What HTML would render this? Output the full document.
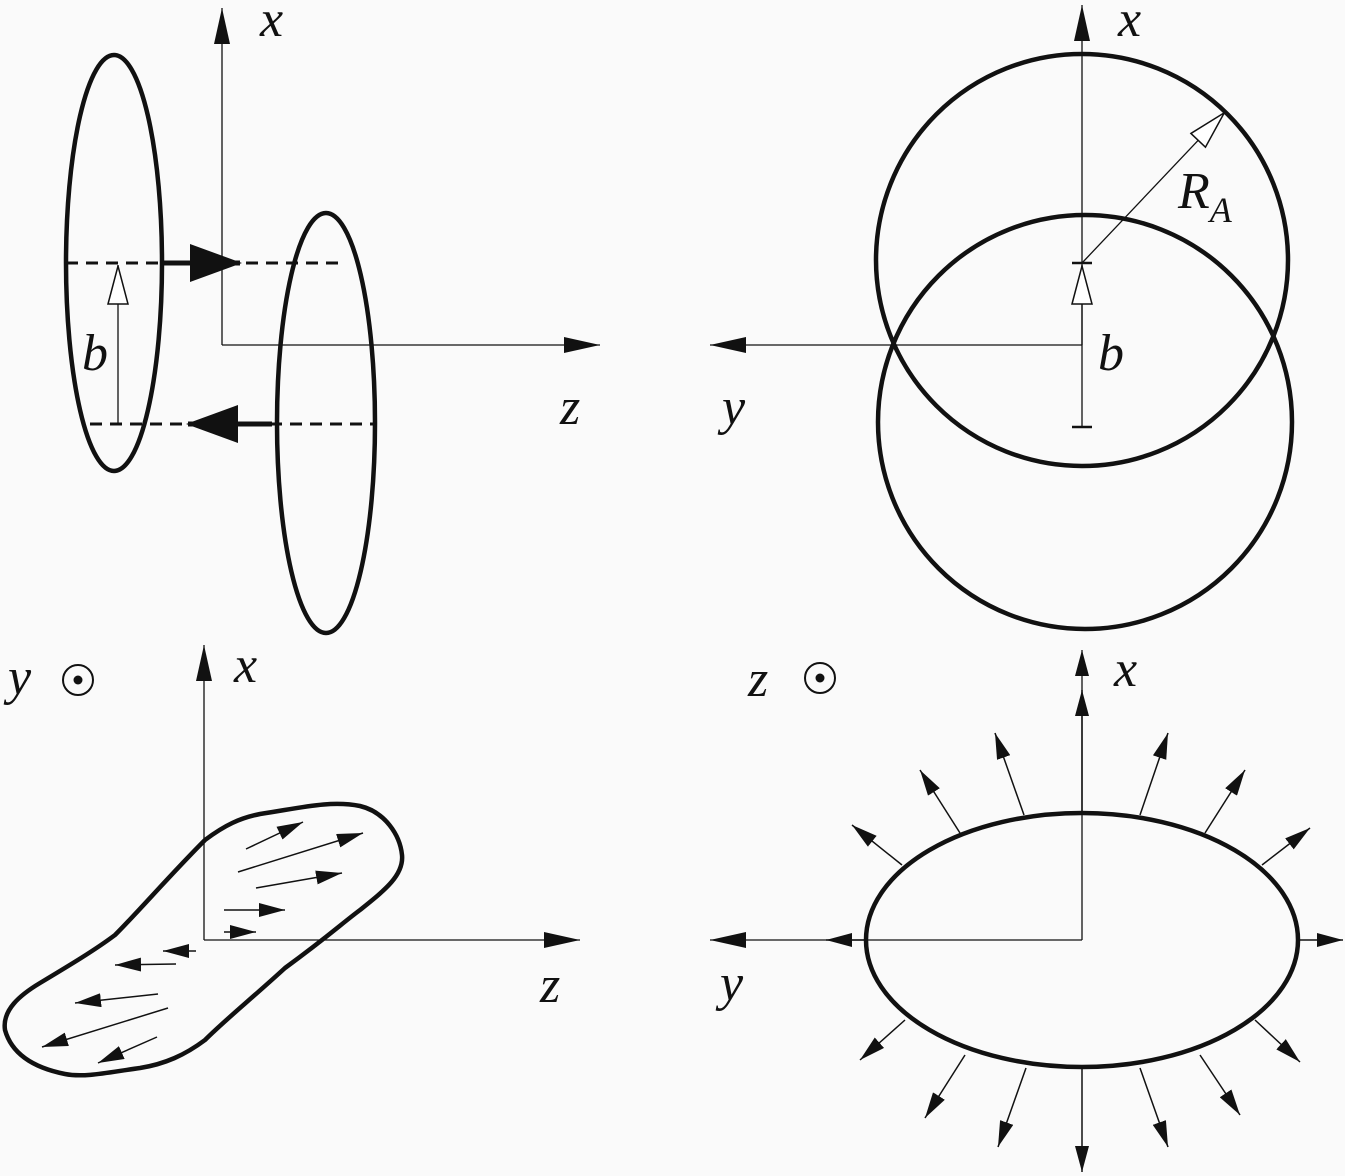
<!DOCTYPE html>
<html><head><style>html,body{margin:0;padding:0;background:#fafafa}
text{font-family:"Liberation Serif","DejaVu Serif",serif;font-style:italic}</style></head>
<body>
<svg width="1345" height="1176" viewBox="0 0 1345 1176" xmlns="http://www.w3.org/2000/svg" style="display:block">
<defs>
<marker id="b" viewBox="0 0 36 16" refX="36" refY="8" markerWidth="36" markerHeight="16" markerUnits="userSpaceOnUse" orient="auto"><path d="M0,0L36,8L0,16z" fill="#111"/></marker>
<marker id="s" viewBox="0 0 26 14" refX="26" refY="7" markerWidth="26" markerHeight="14" markerUnits="userSpaceOnUse" orient="auto"><path d="M0,0L26,7L0,14z" fill="#111"/></marker>
<marker id="o" viewBox="0 0 40 22" refX="40" refY="11" markerWidth="40" markerHeight="22" markerUnits="userSpaceOnUse" orient="auto"><path d="M1,1L39,11L1,21z" fill="#fff" stroke="#111" stroke-width="1.5"/></marker>
<marker id="bb" viewBox="0 0 52 38" refX="50" refY="19" markerWidth="52" markerHeight="38" markerUnits="userSpaceOnUse" orient="auto"><path d="M0,0L52,19L0,38z" fill="#111"/></marker>
</defs>
<g fill="none" stroke="#111">
<!-- top-left -->
<line x1="222" y1="345" x2="222" y2="8" stroke-width="1.3" marker-end="url(#b)"/>
<line x1="222" y1="345" x2="600" y2="345" stroke-width="1.3" marker-end="url(#b)"/>
<ellipse cx="114" cy="263" rx="48" ry="208" stroke-width="4.5"/>
<ellipse cx="326" cy="423" rx="49" ry="210" stroke-width="4.5"/>
<line x1="66" y1="263" x2="345" y2="263" stroke-width="3" stroke-dasharray="12,8"/>
<line x1="90" y1="424" x2="375" y2="424" stroke-width="3" stroke-dasharray="12,8"/>
<line x1="162" y1="263" x2="240" y2="263" stroke-width="5" marker-end="url(#bb)"/>
<line x1="272" y1="424" x2="188" y2="424" stroke-width="5" marker-end="url(#bb)"/>
<line x1="118" y1="424" x2="118" y2="265" stroke-width="1.3" marker-end="url(#o)"/>
<!-- top-right -->
<circle cx="1082" cy="260" r="206" stroke-width="4.5"/>
<circle cx="1085" cy="422" r="207" stroke-width="4.5"/>
<line x1="1082" y1="428" x2="1082" y2="5" stroke-width="1.3" marker-end="url(#b)"/>
<line x1="1082" y1="345" x2="710" y2="345" stroke-width="1.3" marker-end="url(#b)"/>
<line x1="1082" y1="263" x2="1225" y2="112" stroke-width="1.3" marker-end="url(#o)"/>
<line x1="1082" y1="345" x2="1082" y2="265" stroke-width="1.3" marker-end="url(#o)"/>
<line x1="1072" y1="263" x2="1092" y2="263" stroke-width="2.5"/>
<line x1="1072" y1="427" x2="1092" y2="427" stroke-width="2.5"/>
<!-- bottom-left -->
<line x1="204" y1="940" x2="204" y2="645" stroke-width="1.3" marker-end="url(#b)"/>
<line x1="204" y1="940" x2="580" y2="940" stroke-width="1.3" marker-end="url(#b)"/>
<path d="M205,840 C225,825 240,818 260,814 C300,808 330,800 360,806 C385,812 400,835 402,855 C404,875 385,890 360,910 C340,925 330,935 285,968 C250,1000 225,1020 205,1040 C185,1055 165,1064 140,1068 C110,1072 85,1078 65,1074 C35,1068 12,1055 5,1030 C2,1010 20,995 40,983 C70,965 95,950 115,935 C140,910 170,875 205,840 Z" stroke-width="4.5"/>
<g stroke-width="1.5">
<line x1="246" y1="849" x2="303" y2="822" marker-end="url(#s)"/>
<line x1="238" y1="872" x2="363" y2="833" marker-end="url(#s)"/>
<line x1="256" y1="888" x2="342" y2="873" marker-end="url(#s)"/>
<line x1="224" y1="910" x2="285" y2="910" marker-end="url(#s)"/>
<line x1="224" y1="932" x2="256" y2="932" marker-end="url(#s)"/>
<line x1="196" y1="951" x2="163" y2="951" marker-end="url(#s)"/>
<line x1="176" y1="964" x2="115" y2="965" marker-end="url(#s)"/>
<line x1="158" y1="994" x2="75" y2="1003" marker-end="url(#s)"/>
<line x1="168" y1="1008" x2="42" y2="1047" marker-end="url(#s)"/>
<line x1="157" y1="1037" x2="98" y2="1063" marker-end="url(#s)"/>
</g>
<circle cx="78" cy="680" r="15" stroke-width="2"/>
<circle cx="78" cy="680" r="4.5" fill="#111" stroke="none"/>
<!-- bottom-right -->
<line x1="1082" y1="940" x2="1082" y2="650" stroke-width="1.3" marker-end="url(#s)"/>
<line x1="1082" y1="940" x2="710" y2="940" stroke-width="1.3" marker-end="url(#b)"/>
<ellipse cx="1082" cy="940" rx="216" ry="127" stroke-width="4.5"/>
<g stroke-width="1.5">
<line x1="1082" y1="813" x2="1082" y2="690" marker-end="url(#s)"/>
<line x1="1082" y1="1067" x2="1082" y2="1172" marker-end="url(#s)"/>
<line x1="1298" y1="940" x2="1343" y2="940" marker-end="url(#s)"/>
<line x1="866" y1="940" x2="826" y2="940" marker-end="url(#s)"/>
<line x1="1024" y1="815" x2="995" y2="733" marker-end="url(#s)"/>
<line x1="960" y1="833" x2="920" y2="770" marker-end="url(#s)"/>
<line x1="902" y1="865" x2="852" y2="825" marker-end="url(#s)"/>
<line x1="1140" y1="815" x2="1168" y2="733" marker-end="url(#s)"/>
<line x1="1205" y1="833" x2="1245" y2="770" marker-end="url(#s)"/>
<line x1="1262" y1="865" x2="1310" y2="828" marker-end="url(#s)"/>
<line x1="905" y1="1020" x2="860" y2="1060" marker-end="url(#s)"/>
<line x1="965" y1="1055" x2="925" y2="1118" marker-end="url(#s)"/>
<line x1="1026" y1="1068" x2="998" y2="1147" marker-end="url(#s)"/>
<line x1="1140" y1="1068" x2="1168" y2="1147" marker-end="url(#s)"/>
<line x1="1200" y1="1055" x2="1240" y2="1115" marker-end="url(#s)"/>
<line x1="1255" y1="1020" x2="1300" y2="1062" marker-end="url(#s)"/>
</g>
<circle cx="820" cy="678" r="15" stroke-width="2"/>
<circle cx="820" cy="678" r="4.5" fill="#111" stroke="none"/>
</g>
<g fill="#111" font-size="52">
<text x="260" y="36">x</text>
<text x="560" y="424">z</text>
<text x="82" y="370">b</text>
<text x="1118" y="36">x</text>
<text x="722" y="424">y</text>
<text x="1098" y="370">b</text>
<text x="1178" y="208">R<tspan font-size="36" dy="14">A</tspan></text>
<text x="234" y="682">x</text>
<text x="540" y="1002">z</text>
<text x="8" y="694">y</text>
<text x="1114" y="686">x</text>
<text x="720" y="1000">y</text>
<text x="748" y="696">z</text>
</g>
</svg>
</body></html>
